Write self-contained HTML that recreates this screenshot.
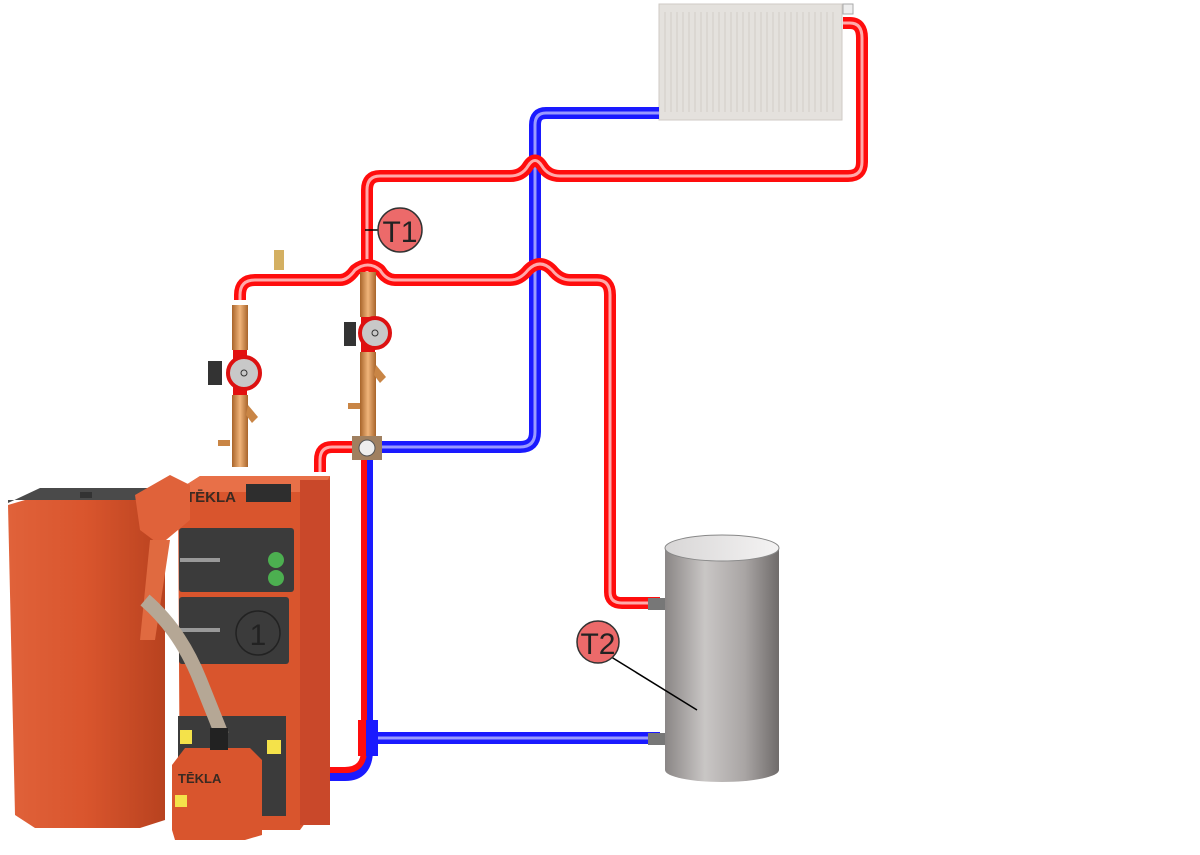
<!DOCTYPE html>
<html><head><meta charset="utf-8"><style>
html,body{margin:0;padding:0;background:#fff;width:1200px;height:855px;overflow:hidden}
svg{display:block}
text{font-family:"Liberation Sans",sans-serif}
</style></head><body>
<svg width="1200" height="855" viewBox="0 0 1200 855" xmlns="http://www.w3.org/2000/svg">
<defs>
<linearGradient id="tank" x1="0" x2="1"><stop offset="0" stop-color="#8a8685"/><stop offset="0.35" stop-color="#c9c6c5"/><stop offset="0.7" stop-color="#a9a5a4"/><stop offset="1" stop-color="#6f6b6a"/></linearGradient>
<linearGradient id="tanktop" x1="0" x2="1"><stop offset="0" stop-color="#d8d6d6"/><stop offset="1" stop-color="#f4f3f3"/></linearGradient>
<linearGradient id="brass" x1="0" x2="1"><stop offset="0" stop-color="#a8642a"/><stop offset="0.5" stop-color="#f0b47a"/><stop offset="1" stop-color="#a8642a"/></linearGradient>
<linearGradient id="hop" x1="0" x2="1"><stop offset="0" stop-color="#e0623a"/><stop offset="0.5" stop-color="#d9552d"/><stop offset="1" stop-color="#b8421f"/></linearGradient>
</defs>

<!-- radiator -->
<rect x="659" y="4" width="183" height="116" fill="#e4e1dd" stroke="#cfcac5"/>
<g stroke="#d2cdc8" stroke-width="1">
<path d="M665 12V112M671 12V112M677 12V112M683 12V112M689 12V112M695 12V112M701 12V112M707 12V112M713 12V112M719 12V112M725 12V112M731 12V112M737 12V112M743 12V112M749 12V112M755 12V112M761 12V112M767 12V112M773 12V112M779 12V112M785 12V112M791 12V112M797 12V112M803 12V112M809 12V112M815 12V112M821 12V112M827 12V112M833 12V112"/>
</g>
<rect x="843" y="4" width="10" height="10" fill="#eee" stroke="#aaa"/>

<!-- blue pipes -->
<g fill="none" stroke-linejoin="round">
<path d="M659 113H546Q535 113 535 125V432Q535 447 520 447H372" stroke="#1a1aff" stroke-width="12"/>
<path d="M659 113H546Q535 113 535 125V432Q535 447 520 447H372" stroke="#9a9aff" stroke-width="3"/>
<path d="M372 738H660" stroke="#1a1aff" stroke-width="12"/>
<path d="M372 738H660" stroke="#9a9aff" stroke-width="3"/>
<path d="M367 455V750Q367 775 345 775H325" stroke="#1a1aff" stroke-width="12"/>
<path d="M364 455V750Q364 770 345 770H325" stroke="#ff0d0d" stroke-width="6"/>
</g>
<!-- red pipes -->
<g fill="none" stroke-linejoin="round">
<path d="M843 23H850Q862 23 862 38V162Q862 176 848 176H560Q548 176 542 166Q535 155 528 166Q522 176 510 176H380Q367 176 367 190V275" stroke="#ff0d0d" stroke-width="12"/>
<path d="M843 23H850Q862 23 862 38V162Q862 176 848 176H560Q548 176 542 166Q535 155 528 166Q522 176 510 176H380Q367 176 367 190V275" stroke="#ffaaaa" stroke-width="3"/>
<path d="M240 300V295Q240 280 255 280H340Q348 280 355 270Q368 260 380 270Q386 280 395 280H510Q520 280 528 270Q540 258 552 270Q560 280 570 280H597Q610 280 610 295V592Q610 603 622 603H660" stroke="#ff0d0d" stroke-width="12"/>
<path d="M240 300V295Q240 280 255 280H340Q348 280 355 270Q368 260 380 270Q386 280 395 280H510Q520 280 528 270Q540 258 552 270Q560 280 570 280H597Q610 280 610 295V592Q610 603 622 603H660" stroke="#ffaaaa" stroke-width="3"/>
<path d="M355 447H332Q320 447 320 460V472" stroke="#ff0d0d" stroke-width="12"/>
<path d="M355 447H332Q320 447 320 460V472" stroke="#ffaaaa" stroke-width="3"/>
</g>
<rect x="360" y="720" width="18" height="36" fill="#1a1aff"/><rect x="358" y="720" width="8" height="36" fill="#ff0d0d"/>

<!-- pump line 1 -->
<rect x="232" y="305" width="16" height="45" fill="url(#brass)"/>
<rect x="233" y="350" width="14" height="60" fill="#e21010"/>
<rect x="208" y="361" width="14" height="24" fill="#333"/>
<circle cx="244" cy="373" r="16" fill="#c8c8c8" stroke="#d11" stroke-width="4"/>
<circle cx="244" cy="373" r="3" fill="none" stroke="#333"/>
<rect x="232" y="395" width="16" height="72" fill="url(#brass)"/>
<path d="M248 405l10 12-6 6-6-8z" fill="#c98545"/>
<path d="M218 440h12v6h-12z" fill="#c98545"/>
<rect x="274" y="250" width="10" height="20" fill="#d4b062"/>
<!-- pump line 2 -->
<rect x="360" y="272" width="16" height="45" fill="url(#brass)"/>
<rect x="361" y="317" width="14" height="35" fill="#e21010"/>
<rect x="344" y="322" width="12" height="24" fill="#333"/>
<circle cx="375" cy="333" r="15" fill="#c8c8c8" stroke="#d11" stroke-width="4"/>
<circle cx="375" cy="333" r="3" fill="none" stroke="#333"/>
<rect x="360" y="352" width="16" height="86" fill="url(#brass)"/>
<path d="M376 365l10 12-6 6-6-8z" fill="#c98545"/>
<path d="M348 403h12v6h-12z" fill="#c98545"/>
<!-- mixing valve -->
<rect x="352" y="436" width="30" height="24" fill="#a08060"/>
<circle cx="367" cy="448" r="8" fill="#eee" stroke="#555"/>

<!-- T1 -->
<line x1="365" y1="230" x2="380" y2="230" stroke="#000" stroke-width="1.5"/>
<circle cx="400" cy="230" r="22" fill="#ec6a6a" stroke="#333" stroke-width="1.5"/>
<text x="400" y="242" font-size="30" text-anchor="middle" fill="#222">T1</text>

<!-- tank -->
<rect x="648" y="598" width="20" height="12" fill="#777"/>
<rect x="648" y="733" width="20" height="12" fill="#777"/>
<path d="M665 548V770A57 12 0 0 0 779 770V548Z" fill="url(#tank)"/>
<ellipse cx="722" cy="548" rx="57" ry="13" fill="url(#tanktop)" stroke="#888"/>
<!-- T2 -->
<line x1="608" y1="655" x2="697" y2="710" stroke="#000" stroke-width="1.5"/>
<circle cx="598" cy="642" r="21" fill="#ec6a6a" stroke="#333" stroke-width="1.5"/>
<text x="598" y="654" font-size="30" text-anchor="middle" fill="#222">T2</text>

<!-- hopper -->
<path d="M8 505L25 500L165 500V820L140 828H35L15 815Z" fill="url(#hop)"/>
<path d="M8 503L40 488H150L170 500H8Z" fill="#4a4a4a"/>
<rect x="80" y="492" width="12" height="6" fill="#333"/>
<!-- boiler -->
<path d="M178 490L200 476H330V500L322 510V800L300 830H180Z" fill="#d9552d"/>
<path d="M178 490L200 476H330L320 492H178Z" fill="#e87048"/>
<rect x="300" y="480" width="30" height="345" fill="#c9482a"/>
<text x="186" y="502" font-size="15" font-weight="bold" fill="#3a2a22">TĒKLA</text>
<rect x="246" y="484" width="45" height="18" fill="#2e2e2e"/>
<rect x="179" y="528" width="115" height="64" rx="3" fill="#3b3b3b"/>
<rect x="179" y="597" width="110" height="67" rx="3" fill="#3b3b3b"/>
<circle cx="258" cy="633" r="22" fill="none" stroke="#222" stroke-width="1.5"/>
<text x="258" y="645" font-size="30" text-anchor="middle" fill="#222">1</text>
<circle cx="276" cy="560" r="8" fill="#4caf50"/><circle cx="276" cy="578" r="8" fill="#4caf50"/>
<path d="M180 560h40" stroke="#999" stroke-width="4"/><path d="M180 630h40" stroke="#999" stroke-width="4"/>
<rect x="178" y="716" width="108" height="100" fill="#3b3b3b"/>
<!-- feeder -->
<path d="M135 495L170 475 190 485 190 520 160 545 140 530Z" fill="#e0623a"/>
<path d="M150 540L170 540 155 640 140 640Z" fill="#e06a40"/>
<path d="M145 600Q180 630 200 680Q212 710 222 735" stroke="#b5a795" stroke-width="14" fill="none"/>
<!-- burner -->
<path d="M172 765L185 748H250L262 760V835L245 840H175L172 830Z" fill="#d9552d"/>
<rect x="210" y="728" width="18" height="22" fill="#222"/>
<text x="178" y="783" font-size="13" font-weight="bold" fill="#3a2a22">TĒKLA</text>
<rect x="175" y="795" width="12" height="12" fill="#f4e24a"/>
<rect x="267" y="740" width="14" height="14" fill="#f4e24a"/>
<rect x="180" y="730" width="12" height="14" fill="#f4e24a"/>
</svg>
</body></html>
